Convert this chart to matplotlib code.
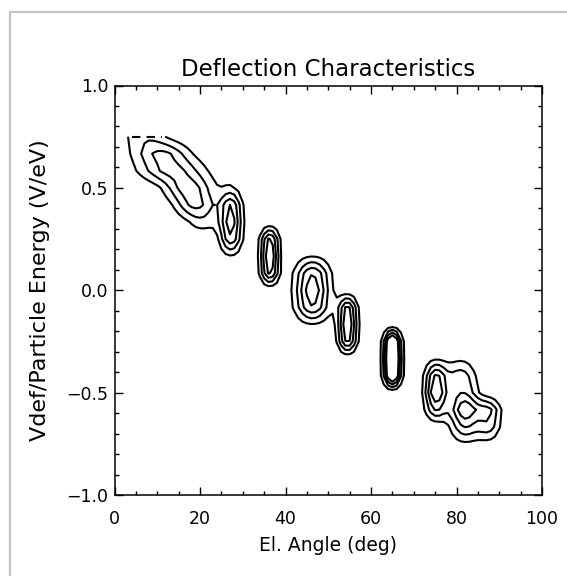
import numpy as np
import matplotlib
matplotlib.use("Agg")
import matplotlib.pyplot as plt
from matplotlib.ticker import MultipleLocator
from matplotlib.patches import Rectangle

# Sampling of the response map: elevation angle (deg) and deflection rows (V/eV)
angle_grid = np.arange(0.0, 100.01, 1.0)
vdef_rows = np.round(np.arange(-1.0, 0.7501, 1.0 / 12.0), 4)

# Response peaks: centre angle (deg), angular width (deg), peak level,
# deflection rows covered and relative response in each of those rows
peak_angle = [7.5, 11.0, 13.5, 17.3, 19.0, 20.5,
              27.2, 36.3, 46.3, 54.5, 65.0,
              75.2, 81.0, 82.0, 87.5]
peak_width = [4.0, 4.7, 5.3, 4.0, 3.5, 3.0,
              1.79, 1.48, 2.77, 1.53, 1.35,
              1.8, 2.5, 2.5, 2.0]
peak_level = [1.8, 3.35, 3.5, 3.7, 3.4, 1.6,
              4.5, 5.0, 4.69, 5.0, 7.0,
              5.0, 2.6, 5.0, 3.0]
peak_rows = [[0.75], [0.6667], [0.5833], [0.5], [0.4167], [0.3333],
             [0.1667, 0.25, 0.3333, 0.4167, 0.5],
             [0.0833, 0.1667, 0.25],
             [-0.1667, -0.0833, 0.0, 0.0833, 0.1667],
             [-0.25, -0.1667, -0.0833],
             [-0.4167, -0.3333, -0.25],
             [-0.3333, -0.4167, -0.5, -0.5833],
             [-0.3333, -0.4167, -0.5],
             [-0.5, -0.5833, -0.6667, -0.75],
             [-0.5833, -0.6667, -0.75]]
peak_row_weight = [[1.0], [1.0], [1.0], [1.0], [1.0], [1.0],
                   [0.2, 0.84, 1.0, 0.84, 0.22],
                   [0.84, 1.0, 0.84],
                   [0.2, 0.84, 1.0, 0.84, 0.2],
                   [0.84, 1.0, 0.84],
                   [0.9, 1.0, 0.9],
                   [0.15, 0.8, 1.0, 0.6],
                   [0.28, 1.0, 0.6],
                   [0.3, 1.0, 0.6, 0.15],
                   [1.0, 0.8, 0.15]]

contour_levels = [1.0, 2.0, 3.0, 4.0]

# Assemble the response map row by row
response = np.zeros((len(vdef_rows), len(angle_grid)))
for a0, w, amp, rows, wts in zip(peak_angle, peak_width, peak_level,
                                  peak_rows, peak_row_weight):
    profile = amp * np.exp(-0.5 * ((angle_grid - a0) / w) ** 2)
    for v, f in zip(rows, wts):
        i = int(np.argmin(np.abs(vdef_rows - v)))
        response[i] += f * profile

fig = plt.figure(figsize=(5.67, 5.76), dpi=100)
fig.patch.set_facecolor("white")
fig.add_artist(Rectangle((10 / 567, -0.2), 1.5, 1.2 - 12 / 576,
                         transform=fig.transFigure, fill=False,
                         edgecolor="#c4c4c4", linewidth=1.6))

ax = fig.add_axes([114.5 / 567, 1 - 495 / 576,
                   (542 - 114.5) / 567, (495 - 85.5) / 576])

ax.contour(angle_grid, vdef_rows, response, levels=contour_levels,
           colors="black", linewidths=1.5)

# Upper edge of the sampled region, where the outer level is still exceeded
top = response[-1] >= contour_levels[0]
ax.plot(angle_grid[top], np.full(top.sum(), vdef_rows[-1]),
        color="black", linewidth=1.5, linestyle=(0, (4, 3)))

ax.set_xlim(0, 100)
ax.set_ylim(-1.0, 1.0)
ax.xaxis.set_major_locator(MultipleLocator(20))
ax.xaxis.set_minor_locator(MultipleLocator(5))
ax.yaxis.set_major_locator(MultipleLocator(0.5))
ax.yaxis.set_minor_locator(MultipleLocator(0.1))

ax.tick_params(which="both", direction="in", top=True, right=True,
               colors="black", width=1.0)
ax.tick_params(which="major", length=6.0, labelsize=12.5)
ax.tick_params(which="minor", length=3.2)
ax.tick_params(axis="x", which="major", pad=11)
ax.tick_params(axis="y", which="major", pad=4.5)
for sp in ax.spines.values():
    sp.set_linewidth(1.1)
    sp.set_color("black")

ax.set_title("Deflection Characteristics", fontsize=16.5, pad=6.8)
ax.set_xlabel("El. Angle (deg)", fontsize=13.5)
ax.set_ylabel("Vdef/Particle Energy (V/eV)", fontsize=16)
ax.xaxis.set_label_coords(0.5, -0.1)
ax.yaxis.set_label_coords(-0.152, 0.5)

fig.savefig("out.png", dpi=100, facecolor="white")
